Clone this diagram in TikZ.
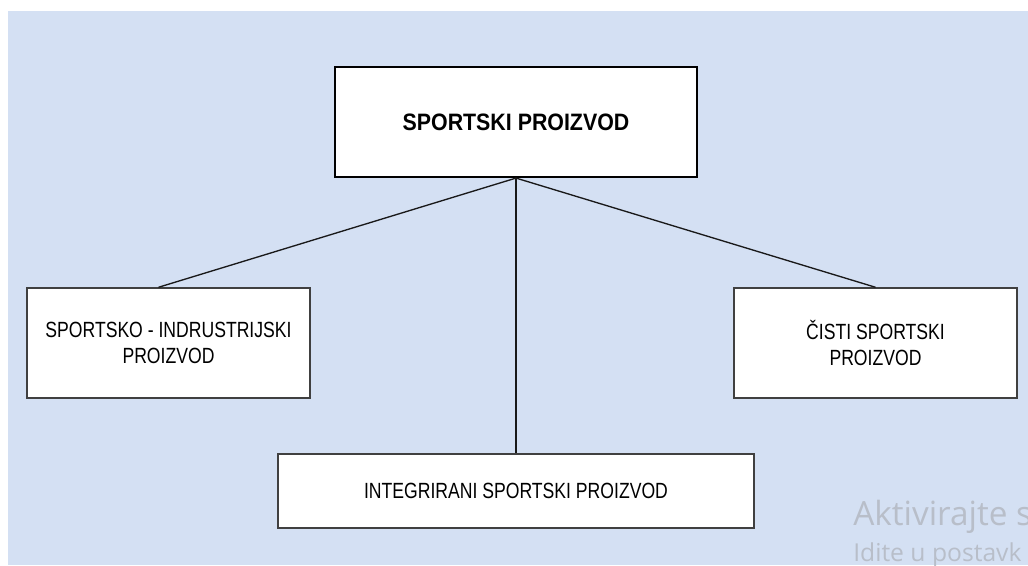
\documentclass[tikz,border=0pt]{standalone}
\usepackage{fontspec}
\setmainfont{Liberation Sans}
\newfontfamily\boxfont[FakeStretch=0.8]{Liberation Sans}
\newfontfamily\headfont[FakeStretch=0.9]{Liberation Sans}
\newfontfamily\winfont{Open Sans}
\usetikzlibrary{positioning}
\definecolor{bgblue}{RGB}{212,224,243}
\definecolor{wmgray}{RGB}{184,190,201}
\tikzset{box/.style={draw=black!75,line width=1.1pt,fill=white,align=center,inner sep=0pt,font=\boxfont\fontsize{16.5}{20}\selectfont},top/.style={box,draw=black,line width=1.6pt,font=\headfont\bfseries\fontsize{17.8}{20}\selectfont},link/.style={line width=1pt,black!90},wm/.style={anchor=base west,inner sep=0pt,text=wmgray}}

\begin{document}
\begin{tikzpicture}[x=0.75pt,y=-0.75pt]
\useasboundingbox (0,0) rectangle (1028,565);
\fill[bgblue] (8,11) rectangle (1028,565);
\node[top,minimum width=271.5pt,minimum height=82.5pt] (prod) at (516,122) {SPORTSKI PROIZVOD};
\node[box,minimum width=212.25pt,minimum height=82.5pt] (ind) at (168.5,343) {SPORTSKO - INDRUSTRIJSKI\\PROIZVOD};
\node[box,minimum width=212.25pt,minimum height=82.5pt] (cist) at (875.5,343) {ČISTI SPORTSKI\\PROIZVOD};
\node[box,minimum width=357pt,minimum height=55.5pt] (integ) at (516,491) {INTEGRIRANI SPORTSKI PROIZVOD};
\draw[link] (prod.south) -- ([xshift=-7.5pt]ind.north);
\draw[link] (prod.south) -- (cist.north);
\draw[link] (prod.south) -- (integ.north);
\begin{scope}
\clip (0,0) rectangle (1028,565);
\node[wm,font=\winfont\fontsize{25}{30}\selectfont] (akt) at (853,525) {Aktivirajte s};
\node[wm,font=\winfont\fontsize{18.5}{22}\selectfont] (idi) at (853,561) {Idite u postavk};
\end{scope}
\end{tikzpicture}
\end{document}
